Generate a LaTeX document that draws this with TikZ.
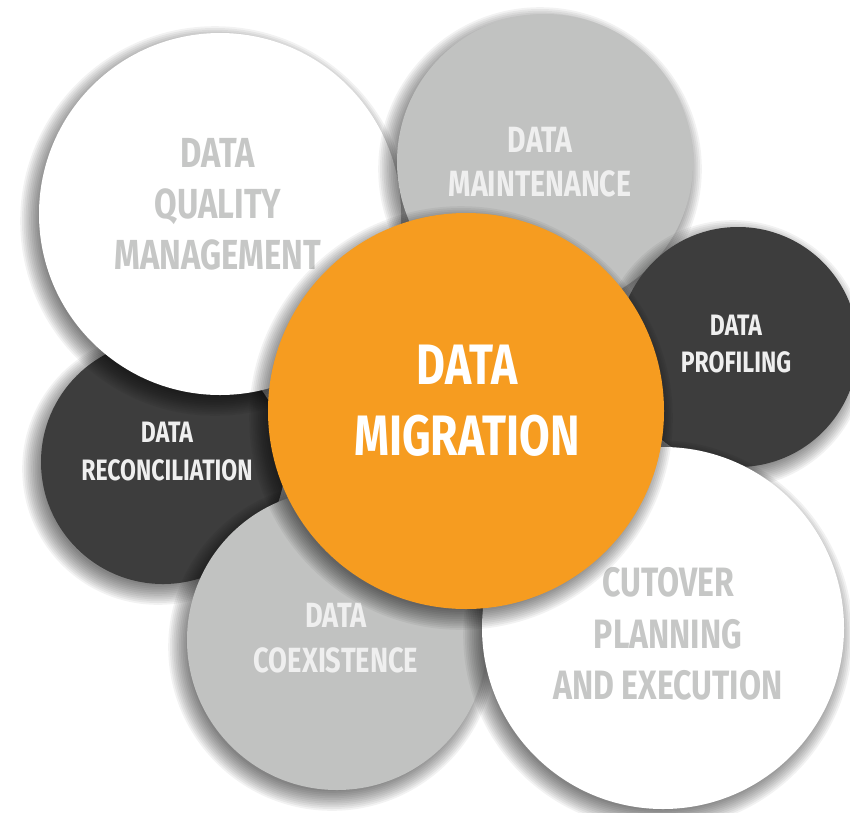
\documentclass[tikz,border=0pt]{standalone}
\usepackage{fontspec}
\setmainfont{Fira Sans}[FakeStretch=0.78]
\definecolor{morange}{HTML}{F69C20}
\definecolor{mdark}{HTML}{3D3D3D}
\definecolor{mgray}{HTML}{C1C2C1}
\definecolor{mtxtgray}{HTML}{C6C7C6}
\definecolor{mtxtlight}{HTML}{EFEFEF}
\newcommand{\softshadow}[3]{%
  \foreach \k in {0,...,11}{\fill[black,opacity=0.05] (#1-5,#2+7) circle [radius={(#3-6+1.8*\k)*1pt}];}}
\newcommand{\fsz}[2]{\fontsize{#1}{#2}\selectfont\bfseries}
\begin{document}
\begin{tikzpicture}[x=1pt,y=-1pt,
  bubble/.style={circle, inner sep=0pt, draw=none},
  lbl/.style={align=center, inner sep=0pt}]
\useasboundingbox (0,0) rectangle (850,812);
\clip (0,0) rectangle (850,812);
\fill[white] (0,0) rectangle (850,812);
% reconciliation
\softshadow{163}{462}{122}
\node[bubble, fill=mdark, minimum size=244pt] (rec) at (163,462) {};
\node[lbl, text=mtxtlight, font=\fsz{29.5}{38}] (trec) at (167,452) {DATA\\RECONCILIATION};
% data quality management
\softshadow{220}{214}{181}
\node[bubble, fill=white, minimum size=362pt] (dqm) at (220,214) {};
\node[lbl, text=mtxtgray, font=\fsz{42}{51}] (tdqm) at (218,204) {DATA\\QUALITY\\MANAGEMENT};
% maintenance
\softshadow{545}{162}{148}
\node[bubble, fill=mgray, minimum size=296pt] (mnt) at (545,162) {};
\node[lbl, text=mtxtlight, font=\fsz{36.5}{44}] (tmnt) at (540,162) {DATA\\MAINTENANCE};
% profiling
\softshadow{738}{347}{120}
\node[bubble, fill=mdark, minimum size=240pt] (prof) at (738,347) {};
\node[lbl, text=mtxtlight, font=\fsz{29.5}{37}] (tprof) at (736,344) {DATA\\PROFILING};
% coexistence
\softshadow{337}{640}{150}
\node[bubble, fill=mgray, minimum size=300pt] (coex) at (337,640) {};
\node[lbl, text=mtxtlight, font=\fsz{35}{45}] (tcoex) at (336,638) {DATA\\COEXISTENCE};
% cutover
\softshadow{663}{628}{181}
\node[bubble, fill=white, minimum size=362pt] (cut) at (663,628) {};
\node[lbl, text=mtxtgray, font=\fsz{41}{51.5}] (tcut) at (668,634) {CUTOVER\\PLANNING\\AND EXECUTION};
% migration
\softshadow{466}{411}{198}
\node[bubble, fill=morange, minimum size=396pt] (mig) at (466,411) {};
\node[lbl, text=white, font=\fsz{57}{71}] (tmig) at (467,401) {DATA\\MIGRATION};
\end{tikzpicture}
\end{document}
